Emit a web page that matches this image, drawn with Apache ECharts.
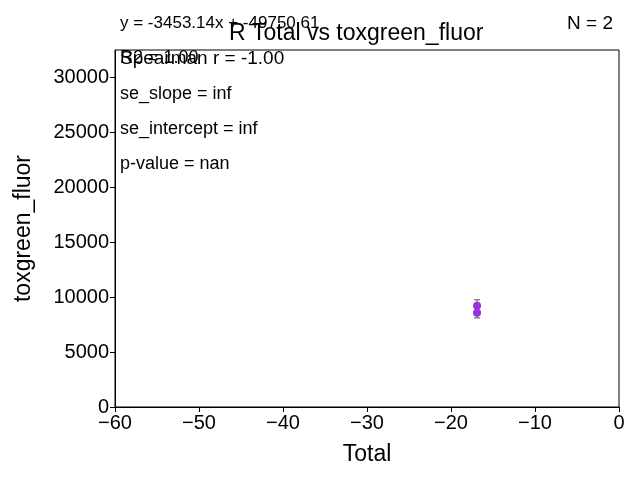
<!DOCTYPE html>
<html><head><meta charset="utf-8">
<script src="https://cdn.jsdelivr.net/npm/echarts@6/dist/echarts.min.js"></script>
<style>body{margin:0}#c{width:640px;height:480px}</style></head>
<body><div id="c"></div>
<script>
// data
const xVals = [-16.9, -16.9];
const yVals = [9210, 8570];
const yErr = [550, 460];
const statLines = ['se_slope = inf', 'se_intercept = inf', 'p-value = nan'];

const chart = echarts.init(document.getElementById('c'));
const font = 'Arial, Liberation Sans, sans-serif';

const errData = xVals.map((x, i) => [x, yVals[i] - yErr[i], yVals[i] + yErr[i]]);

chart.setOption({
  animation: false,
  grid: { left: 115, right: 21, top: 50, bottom: 73, show: true, borderColor: '#000', borderWidth: 1, backgroundColor: 'transparent' },
  xAxis: {
    type: 'value', min: -60, max: 0, interval: 10,
    name: 'Total', nameLocation: 'middle', nameGap: 36,
    nameTextStyle: { fontSize: 23, color: '#000', fontFamily: font },
    axisLine: { onZero: false, lineStyle: { color: '#000' } },
    axisTick: { show: true, length: 5, lineStyle: { color: '#000' } },
    axisLabel: { fontSize: 20, color: '#000', fontFamily: font, margin: 6, formatter: v => String(v).replace('-', '\u2212') },
    splitLine: { show: false }
  },
  yAxis: {
    type: 'value', min: 0, max: 32500, interval: 5000,
    name: 'toxgreen_fluor', nameLocation: 'middle', nameGap: 80,
    nameTextStyle: { fontSize: 23, color: '#000', fontFamily: font },
    axisLine: { show: true, onZero: false, lineStyle: { color: '#000' } },
    axisTick: { show: true, length: 5, lineStyle: { color: '#000' } },
    axisLabel: { fontSize: 20, color: '#000', fontFamily: font, margin: 6, showMaxLabel: false, formatter: v => String(v) },
    splitLine: { show: false }
  },
  series: [
    {
      type: 'custom',
      data: errData,
      renderItem: (params, api) => {
        const x = api.value(0);
        const lo = api.coord([x, api.value(1)]);
        const hi = api.coord([x, api.value(2)]);
        const s = { stroke: '#555', lineWidth: 1 };
        return { type: 'group', children: [
          { type: 'line', shape: { x1: lo[0], y1: lo[1], x2: hi[0], y2: hi[1] }, style: s },
          { type: 'line', shape: { x1: lo[0] - 3, y1: lo[1], x2: lo[0] + 3, y2: lo[1] }, style: s },
          { type: 'line', shape: { x1: hi[0] - 3, y1: hi[1], x2: hi[0] + 3, y2: hi[1] }, style: s }
        ]};
      },
      z: 1
    },
    {
      type: 'scatter',
      data: xVals.map((x, i) => [x, yVals[i]]),
      symbolSize: 8,
      itemStyle: { color: '#9b30e0', opacity: 1 },
      z: 2
    }
  ],
  graphic: [
    { type: 'text', left: 120, top: 15, style: { text: 'y = -3453.14x + -49750.61', font: '17px ' + font, fill: '#000' } },
    { type: 'text', right: 27, top: 14, style: { text: 'N = 2', font: '19px ' + font, fill: '#000' } },
    { type: 'text', left: 229, top: 22, style: { text: 'R Total vs toxgreen_fluor', font: '23px ' + font, fill: '#000' } },
    { type: 'text', left: 120, top: 49, style: { text: 'R2 = 1.00', font: '18px ' + font, fill: '#000' } },
    { type: 'text', left: 120, top: 49, style: { text: 'Spearman r = -1.00', font: '19px ' + font, fill: '#000' } },
    ...statLines.map((t, i) => ({ type: 'text', left: 120, top: 85 + i * 35, style: { text: t, font: '18px ' + font, fill: '#000' } }))
  ]
});
</script></body></html>
